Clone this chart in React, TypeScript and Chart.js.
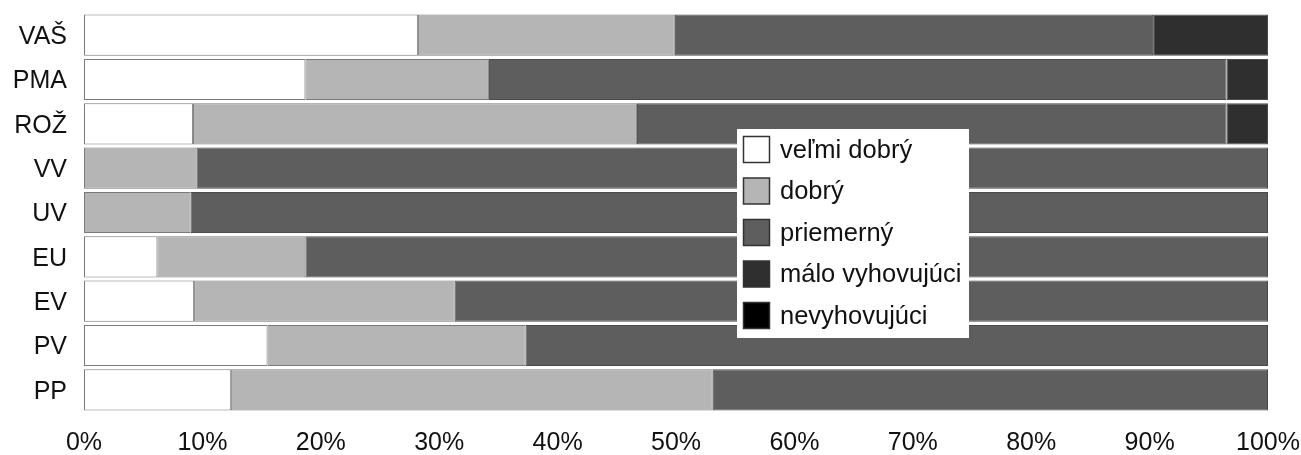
import React, { useEffect, useRef } from "react";
import { Chart, registerables } from "chart.js";

Chart.register(...registerables);

const categories = ["VAŠ", "PMA", "ROŽ", "VV", "UV", "EU", "EV", "PV", "PP"];
const seriesNames = ["veľmi dobrý", "dobrý", "priemerný", "málo vyhovujúci", "nevyhovujúci"];
const velmiDobry = [28.2, 18.7, 9.2, 0, 0, 6.2, 9.3, 15.5, 12.4];
const dobry = [21.7, 15.5, 37.5, 9.5, 9.0, 12.5, 22.0, 21.8, 40.7];
const priemerny = [40.4, 62.3, 49.8, 90.5, 91.0, 81.3, 68.7, 62.7, 46.9];
const maloVyhovujuci = [9.7, 3.5, 3.5, 0, 0, 0, 0, 0, 0];
const nevyhovujuci = [0, 0, 0, 0, 0, 0, 0, 0, 0];
const xTicks = [0, 10, 20, 30, 40, 50, 60, 70, 80, 90, 100];
const colors = ["#ffffff", "#b5b5b5", "#5e5e5e", "#2f2f2f", "#000000"];

const FONT = "'Liberation Sans', Arial, sans-serif";

const legendPlugin = {
  id: "insideLegend",
  afterDraw(chart: any) {
    const ctx = chart.ctx;
    const x0 = 737;
    const y0 = 129;
    const w = 232;
    const h = 209;
    ctx.save();
    ctx.fillStyle = "#ffffff";
    ctx.fillRect(x0, y0, w, h);
    ctx.font = `25.5px ${FONT}`;
    ctx.textBaseline = "middle";
    chart.data.datasets.forEach((ds: any, i: number) => {
      const sy = y0 + 7.5 + i * 41.5;
      ctx.fillStyle = ds.backgroundColor;
      ctx.fillRect(x0 + 6.5, sy, 26, 26);
      ctx.strokeStyle = "#333333";
      ctx.lineWidth = 1.5;
      ctx.strokeRect(x0 + 6.5, sy, 26, 26);
      ctx.fillStyle = "#111111";
      ctx.fillText(ds.label, x0 + 43, sy + 14);
    });
    ctx.restore();
  },
};

const zeroPad = (scale: any) => {
  scale.paddingTop = 0;
  scale.paddingBottom = 0;
  scale.paddingLeft = 0;
  scale.paddingRight = 0;
};

export default function App() {
  const ref = useRef<HTMLCanvasElement | null>(null);
  useEffect(() => {
    document.body.style.margin = "0";
    const series = [velmiDobry, dobry, priemerny, maloVyhovujuci, nevyhovujuci];
    const chart = new Chart(ref.current as HTMLCanvasElement, {
      type: "bar",
      data: {
        labels: categories,
        datasets: series.map((d, i) => ({
          label: seriesNames[i],
          data: d,
          backgroundColor: colors[i],
          borderColor: i < 2 ? "#7a7a7a" : "#4a4a4a",
          borderWidth: 1,
          borderSkipped: false,
          barPercentage: 0.93,
          categoryPercentage: 1,
        })),
      },
      options: {
        indexAxis: "y",
        animation: false,
        responsive: false,
        maintainAspectRatio: false,
        layout: { padding: { top: 13, right: 33, left: 0, bottom: 0 } },
        plugins: { legend: { display: false }, tooltip: { enabled: false } },
        scales: {
          x: {
            stacked: true,
            min: 0,
            max: 100,
            afterBuildTicks: (scale: any) => {
              scale.ticks = xTicks.map((v) => ({ value: v }));
            },
            afterFit: (scale: any) => {
              scale.height = 43;
              zeroPad(scale);
            },
            grid: { display: false, drawTicks: false },
            border: { display: false },
            ticks: {
              padding: 16,
              maxRotation: 0,
              color: "#111111",
              font: { family: FONT, size: 25 },
              callback: (v: any) => v + "%",
            },
          },
          y: {
            stacked: true,
            afterFit: (scale: any) => {
              scale.width = 84;
              zeroPad(scale);
            },
            grid: { display: false, drawTicks: false },
            border: { display: false },
            ticks: {
              padding: 17,
              labelOffset: 2,
              color: "#111111",
              font: { family: FONT, size: 25 },
            },
          },
        },
      },
      plugins: [legendPlugin],
    } as any);
    return () => chart.destroy();
  }, []);
  return (
    <div style={{ width: 1301, height: 455 }}>
      <canvas ref={ref} width={1301} height={455} style={{ width: 1301, height: 455 }} />
    </div>
  );
}
